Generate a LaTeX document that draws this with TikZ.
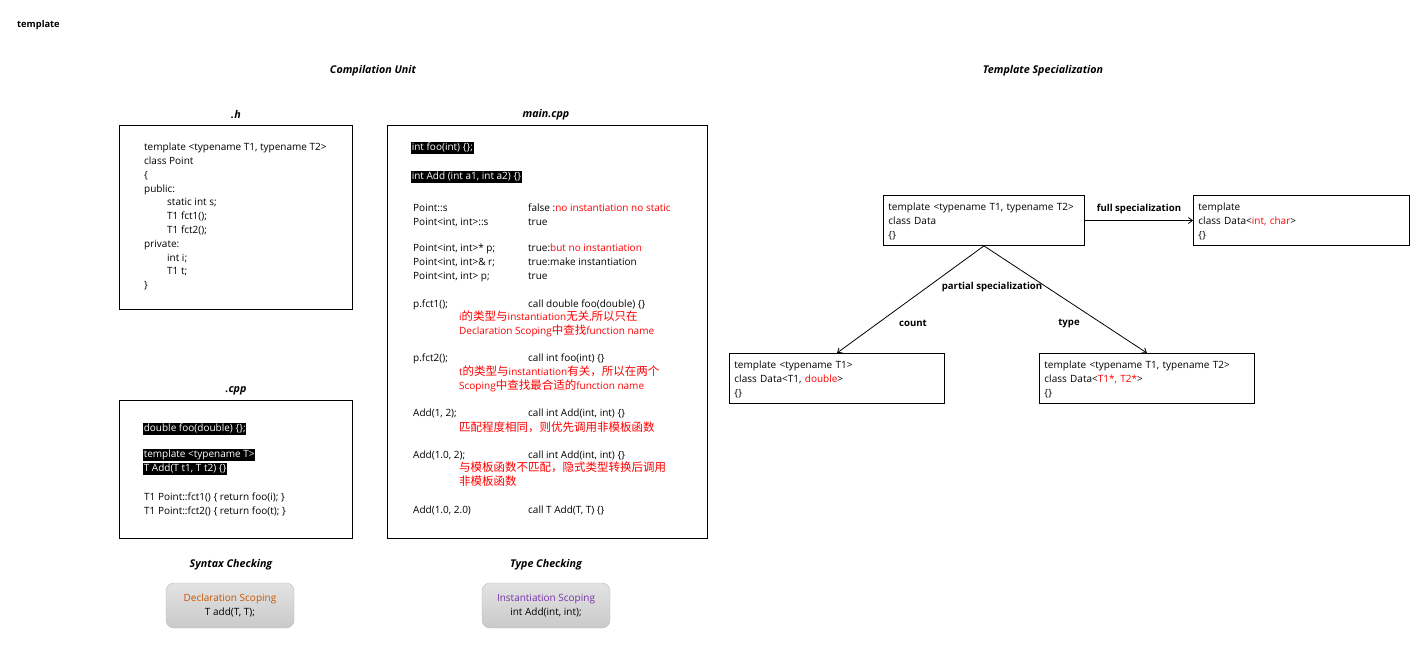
\documentclass[tikz,border=0pt]{standalone}
\usepackage{fontspec}
\setmainfont{Open Sans}
\newfontfamily\cjk{Noto Sans CJK SC}
\usetikzlibrary{arrows.meta, positioning}
\definecolor{decl_orange}{RGB}{204, 85, 0}
\definecolor{inst_purple}{RGB}{120, 50, 170}
\definecolor{note_red}{RGB}{255, 0, 0}
\newcommand{\hl}[1]{{\setlength{\fboxsep}{0.6pt}\colorbox{black}{\rule[-3.4pt]{0pt}{9.4pt}\textcolor{white}{#1}}}}
\newcommand{\rtxt}[1]{\textcolor{note_red}{#1}}
\newcommand{\col}[1]{\makebox[115pt][l]{#1}}
\newcommand{\zh}[1]{{\cjk\fontsize{11.5}{14}\selectfont #1}}

\begin{document}
\begin{tikzpicture}[
    x=1pt, y=-1pt,
    heading/.style={
        font=\bfseries\itshape\fontsize{10.7}{13}\selectfont
    },
    code/.style={
        anchor=north west,
        inner sep=0pt,
        align=left,
        font=\fontsize{10}{13.8}\selectfont,
        execute at begin node={\rule{0pt}{10pt}}
    },
    note/.style={
        code,
        text=note_red,
        font=\fontsize{10}{14}\selectfont
    },
    filebox/.style={
        rectangle,
        draw,
        line width=0.9pt,
        anchor=north west
    },
    scopebox/.style={
        rectangle,
        rounded corners=8pt,
        draw=gray!55,
        top color=gray!22,
        bottom color=gray!42,
        minimum width=128pt,
        minimum height=45pt,
        align=center,
        font=\fontsize{10}{13.5}\selectfont
    },
    spec/.style={
        rectangle,
        draw,
        line width=0.9pt,
        anchor=north west,
        align=left,
        minimum height=50pt,
        inner xsep=5pt,
        inner ysep=0pt,
        font=\fontsize{10}{14}\selectfont,
        execute at begin node={\rule{0pt}{10pt}}
    },
    speclabel/.style={
        font=\bfseries\fontsize{9.6}{12}\selectfont
    },
    arrow/.style={
        -{Straight Barb[length=4pt, width=6pt]},
        line width=0.8pt
    }
]
\useasboundingbox (0,0) rectangle (1426,666);

% Titles
\node[anchor=west, inner sep=0pt, font=\bfseries\fontsize{9.3}{12}\selectfont] (title) at (17,25) {template};
\node[heading] (compunit) at (373,71) {Compilation Unit};
\node[heading] (tspec) at (1043,71) {Template Specialization};

% .h file
\node[heading] (hlabel) at (236,115) {.h};
\node[filebox, minimum width=233pt, minimum height=184pt] (hbox) at (119,125) {};
\node[code] (hcode) at (144,143) {template <typename T1, typename T2>\\
class Point\\
\{\\
public:\\
\hspace*{23pt}static int s;\\
\hspace*{23pt}T1 fct1();\\
\hspace*{23pt}T1 fct2();\\
private:\\
\hspace*{23pt}int i;\\
\hspace*{23pt}T1 t;\\
\}};

% .cpp file
\node[heading] (cpplabel) at (236,391) {.cpp};
\node[filebox, minimum width=233pt, minimum height=138pt] (cppbox) at (119,400) {};
\node[code] (cppfoo) at (143,421) {\hl{double foo(double) \{\};}};
\node[code] (cppadd) at (143,449) {\hl{template <typename T>}\\\hl{T Add(T t1, T t2) \{\}}};
\node[code] (cppfct) at (144,493) {T1 Point::fct1() \{ return foo(i); \}\\
T1 Point::fct2() \{ return foo(t); \}};

% main.cpp file
\node[heading] (mainlabel) at (546,115) {main.cpp};
\node[filebox, minimum width=320pt, minimum height=413pt] (mainbox) at (387,125) {};
\node[code] (mfoo) at (411,140) {\hl{int foo(int) \{\};}};
\node[code] (madd) at (411,169) {\hl{int Add (int a1, int a2) \{\}}};
\node[code] (mstatic) at (413,204) {\col{Point::s}false :\rtxt{no instantiation no static}\\
\col{Point<int, int>::s}true};
\node[code] (mptr) at (413,244) {\col{Point<int, int>* p;}true:\rtxt{but no instantiation}\\
\col{Point<int, int>\& r;}true:make instantiation\\
\col{Point<int, int> p;}true};
\node[code] (mfct1) at (413,297) {\col{p.fct1();}call double foo(double) \{\}};
\node[note] (mfct1note) at (459,311) {i\zh{的类型与}instantiation\zh{无关},\zh{所以只在}\\Declaration Scoping\zh{中查找}function name};
\node[code] (mfct2) at (413,351) {\col{p.fct2();}call int foo(int) \{\}};
\node[note] (mfct2note) at (459,366) {t\zh{的类型与}instantiation\zh{有关，所以在两个}\\Scoping\zh{中查找最合适的}function name};
\node[code] (madd1) at (413,406) {\col{Add(1, 2);}call int Add(int, int) \{\}};
\node[note] (madd1note) at (459,421) {\zh{匹配程度相同，则优先调用非模板函数}};
\node[code] (madd2) at (413,448) {\col{Add(1.0, 2);}call int Add(int, int) \{\}};
\node[note] (madd2note) at (459,462) {\zh{与模板函数不匹配，隐式类型转换后调用}\\\zh{非模板函数}};
\node[code] (madd3) at (413,503) {\col{Add(1.0, 2.0)}call T Add(T, T) \{\}};

% Checking phases
\node[heading] (syntax) at (231,565) {Syntax Checking};
\node[scopebox] (declscope) at (230,605.5) {\textcolor{decl_orange}{Declaration Scoping}\\T add(T, T);};
\node[heading] (typecheck) at (546,565) {Type Checking};
\node[scopebox] (instscope) at (546,605.5) {\textcolor{inst_purple}{Instantiation Scoping}\\int Add(int, int);};

% Template specialization
\node[spec, minimum width=201pt, text width=191pt] (data) at (883,195) {template <typename T1, typename T2>\\class Data\\\{\}};
\node[spec, minimum width=216pt, text width=206pt] (datafull) at (1193,195) {template\\class Data<\rtxt{int, char}>\\\{\}};
\node[spec, minimum width=215pt, text width=205pt] (datacount) at (729,353) {template <typename T1>\\class Data<T1, \rtxt{double}>\\\{\}};
\node[spec, minimum width=215pt, text width=205pt] (datatype) at (1039,353) {template <typename T1, typename T2>\\class Data<\rtxt{T1*, T2*}>\\\{\}};

% Arrows
\draw[arrow] (data.east) -- (datafull.west) node[midway, above=3pt, speclabel] (fulllabel) {full specialization};
\draw[arrow] (data.south) -- (datacount.north);
\draw[arrow] (data.south) -- (datatype.north);
\node[speclabel] (partiallabel) at (992,287) {partial specialization};
\node[speclabel] (countlabel) at (913,323) {count};
\node[speclabel] (typelabel) at (1069,323) {type};

\end{tikzpicture}
\end{document}
